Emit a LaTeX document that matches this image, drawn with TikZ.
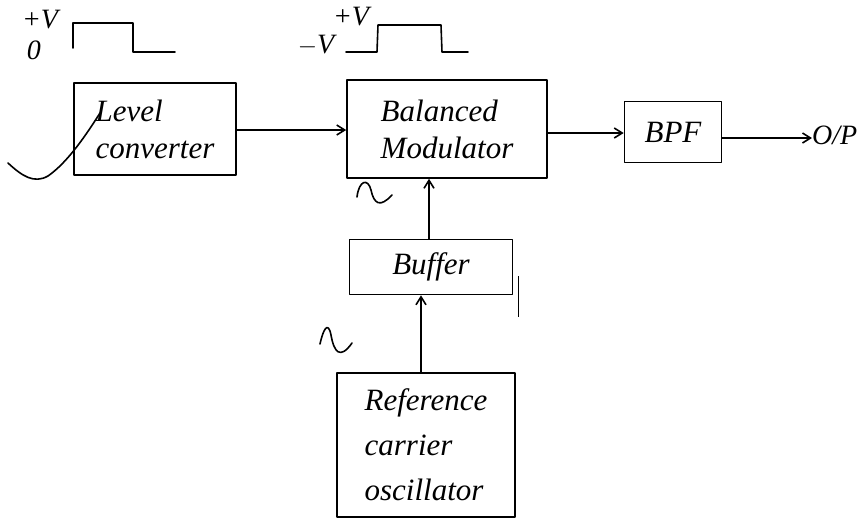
\documentclass[tikz,border=0pt]{standalone}
\usepackage{fontspec}
\setmainfont{Liberation Serif}
\usetikzlibrary{arrows.meta}
\begin{document}
\begin{tikzpicture}[x=1pt,y=-1pt,
  ink/.style={line width=1.6pt,black,line cap=round,line join=round},
  blk/.style={ink,draw,rectangle,inner sep=0pt,align=left,
    font=\itshape\fontsize{31}{37}\selectfont},
  flow/.style={ink,-{Straight Barb[length=8pt,width=10pt]}},
  lbl/.style={font=\itshape\fontsize{28}{30}\selectfont,inner sep=0pt}]
\useasboundingbox (0,0) rectangle (868,523);

% blocks
\node[blk,minimum width=162,minimum height=92] (lc) at (155,129)
  {Level\\converter};
\node[blk,minimum width=200,minimum height=98] (bm) at (447,129)
  {Balanced\\Modulator};
\node[blk,minimum width=97,minimum height=61] (bpf) at (673,132) {BPF};
\node[blk,minimum width=163,minimum height=55] (buf) at (431,267) {Buffer};
\node[blk,minimum width=178,minimum height=144,
  font=\itshape\fontsize{31}{45}\selectfont] (osc) at (426,445)
  {Reference\\carrier\\oscillator};
\node[font=\itshape\fontsize{28}{30}\selectfont,anchor=west,inner sep=0pt]
  (out) at (812,135) {O/P};

% signal path
\draw[flow] (lc.east |- 0,130) -- (bm.west |- 0,130);
\draw[flow] (bm.east |- 0,133) -- (bpf.west |- 0,133);
\draw[flow] (bpf.east |- 0,138) -- (out.west |- 0,138);
\draw[flow] (buf.north -| 429,0) -- (bm.south -| 429,0);
\draw[flow] (osc.north -| 421,0) -- (buf.south -| 421,0);

% unipolar input pulse
\node[lbl] (p1) at (40,20) {+V};
\node[lbl] (z1) at (34,50) {0};
\coordinate (a0) at (73,48);
\draw[ink] (a0) -- (73,23) -- (133,23) -- (133,52) -- (175,52);

% bipolar pulse at modulator input
\node[lbl] (p2) at (351,17) {+V};
\node[lbl] (m2) at (316,45) {$-$V};
\coordinate (b0) at (346,52);
\draw[ink] (b0) -- (377,52) -- (378,25) -- (441,25) -- (442,52) -- (468,52);

% carrier sine marks
\draw[ink] (357,197) .. controls (359,180) and (368,178) .. (371,190)
  .. controls (374,204) and (380,208) .. (392,195);
\draw[ink] (320,344) .. controls (323,330) and (328,320) .. (331,335)
  .. controls (334,352) and (340,360) .. (352,343);

% pencil strokes
\draw[ink] (8,163) .. controls (22,176) and (34,184) .. (48,176)
  .. controls (68,162) and (86,135) .. (100,113);
\draw[line width=1pt] (518,276) -- (518,317);
\end{tikzpicture}
\end{document}
